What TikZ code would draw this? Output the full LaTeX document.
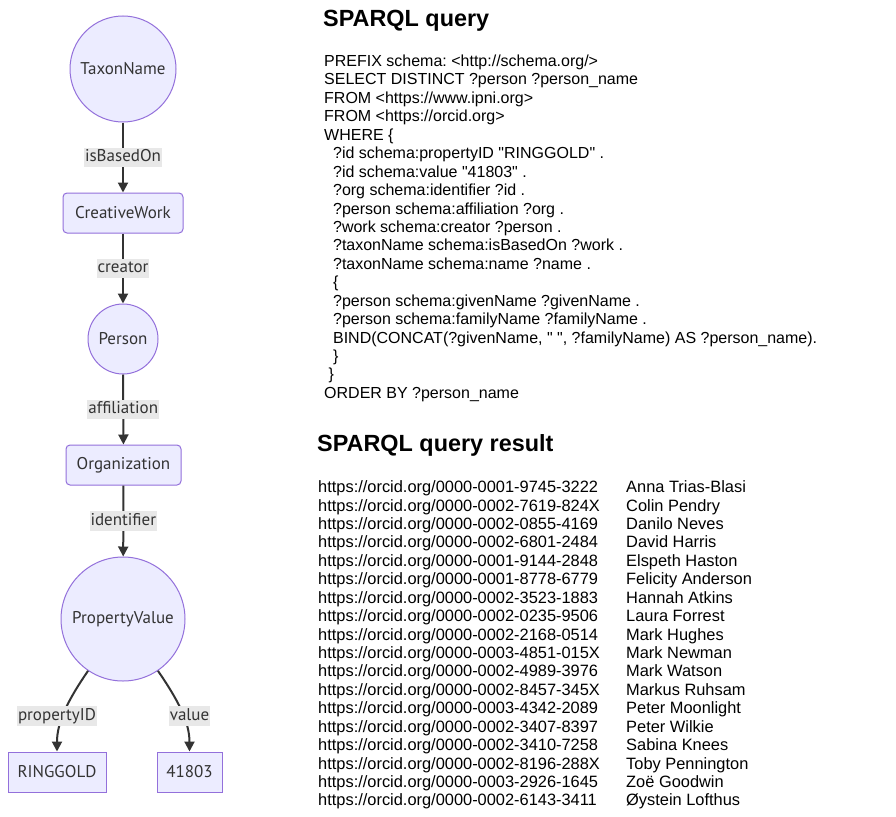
\documentclass[tikz,border=0pt]{standalone}
\usepackage{fontspec}
\setmainfont{Liberation Sans}[Ligatures=TeXOff]
\newfontfamily\mfont{PT Sans}
\usetikzlibrary{arrows.meta}
\definecolor{nodefill}{HTML}{ECECFF}
\definecolor{nodeline}{HTML}{9370DB}
\definecolor{edgecol}{HTML}{333333}
\definecolor{lblbg}{HTML}{E8E8E8}
\frenchspacing
\newcommand{\dq}{\symbol{34}}
\begin{document}
\begin{tikzpicture}[x=1pt,y=-1pt,
  mf/.style={font=\mfont\fontsize{17}{20}\selectfont, text=edgecol},
  circ/.style={circle, draw=nodeline, fill=nodefill, line width=1pt, minimum size=#1, inner sep=0, mf},
  box/.style={rectangle, draw=nodeline, fill=nodefill, line width=1pt, minimum width=#1, minimum height=40pt, inner sep=0, mf},
  rbox/.style={box=#1, rounded corners=4pt},
  edge/.style={draw=edgecol, line width=2pt, -{Triangle[length=10pt,width=10pt]}},
  lbl/.style={fill=lblbg, inner xsep=1pt, inner ysep=1.5pt, text height=12.5pt, text depth=4pt, mf},
  qline/.style={anchor=base west, inner sep=0, font=\frenchspacing\fontsize{16}{19}\selectfont},
  rline/.style={anchor=base west, inner sep=0, font=\frenchspacing\fontsize{16.4}{19}\selectfont},
  ttl/.style={anchor=base west, inner sep=0, font=\bfseries\fontsize{23.4}{28}\selectfont}
]
\fill[white] (0,0) rectangle (896,816);
\useasboundingbox (0,0) rectangle (896,816);

% diagram
\node[circ=106pt] (tn) at (123,69) {TaxonName};
\node[rbox=120pt] (cw) at (123,213) {CreativeWork};
\node[circ=70pt] (ps) at (123,339) {Person};
\node[rbox=115pt] (org) at (123.5,465) {Organization};
\node[circ=124pt] (pv) at (123,619) {PropertyValue};
\node[box=98pt] (rg) at (57,772) {RINGGOLD};
\node[box=65pt] (val) at (189.5,772) {41803};

\draw[edge] (tn) -- (cw) node[lbl, midway] (l1) {isBasedOn};
\draw[edge] (cw) -- (ps) node[lbl, midway] (l2) {creator};
\draw[edge] (ps) -- (org) node[lbl, midway] (l3) {affiliation};
\draw[edge] (org) -- (pv) node[lbl, midway] (l4) {identifier};
\draw[edge] (pv.236) .. controls (68,700) and (57,722) .. (rg.north);
\draw[edge] (pv.304) .. controls (178,700) and (189.5,722) .. (val.north);
\node[lbl] (l5) at (57,716) {propertyID};
\node[lbl] (l6) at (189.5,716) {value};

% query
\node[ttl] (t1) at (323,27) {SPARQL query};
\node[qline] (q0) at (324,{66.5+18.44*0}) {PREFIX schema: <http://schema.org/>};
\node[qline] (q1) at (324,{66.5+18.44*1}) {SELECT DISTINCT ?person ?person\_name};
\node[qline] (q2) at (324,{66.5+18.44*2}) {FROM <https://www.ipni.org>};
\node[qline] (q3) at (324,{66.5+18.44*3}) {FROM <https://orcid.org>};
\node[qline] (q4) at (324,{66.5+18.44*4}) {WHERE \{};
\node[qline] (q5) at (332.9,{66.5+18.44*5}) {?id schema:propertyID \dq RINGGOLD\dq{} .};
\node[qline] (q6) at (332.9,{66.5+18.44*6}) {?id schema:value \dq 41803\dq{} .};
\node[qline] (q7) at (332.9,{66.5+18.44*7}) {?org schema:identifier ?id .};
\node[qline] (q8) at (332.9,{66.5+18.44*8}) {?person schema:affiliation ?org .};
\node[qline] (q9) at (332.9,{66.5+18.44*9}) {?work schema:creator ?person .};
\node[qline] (q10) at (332.9,{66.5+18.44*10}) {?taxonName schema:isBasedOn ?work .};
\node[qline] (q11) at (332.9,{66.5+18.44*11}) {?taxonName schema:name ?name .};
\node[qline] (q12) at (332.9,{66.5+18.44*12}) {\{};
\node[qline] (q13) at (332.9,{66.5+18.44*13}) {?person schema:givenName ?givenName .};
\node[qline] (q14) at (332.9,{66.5+18.44*14}) {?person schema:familyName ?familyName .};
\node[qline] (q15) at (332.9,{66.5+18.44*15}) {BIND(CONCAT(?givenName, \dq{} \dq, ?familyName) AS ?person\_name).};
\node[qline] (q16) at (332.9,{66.5+18.44*16}) {\}};
\node[qline] (q17) at (328.45,{66.5+18.44*17}) {\}};
\node[qline] (q18) at (324,{66.5+18.44*18}) {ORDER BY ?person\_name};

% result
\node[ttl] (t2) at (317,451) {SPARQL query result};
\foreach \u/\n [count=\i from 0] in {
  0000-0001-9745-3222/Anna Trias-Blasi,
  0000-0002-7619-824X/Colin Pendry,
  0000-0002-0855-4169/Danilo Neves,
  0000-0002-6801-2484/David Harris,
  0000-0001-9144-2848/Elspeth Haston,
  0000-0001-8778-6779/Felicity Anderson,
  0000-0002-3523-1883/Hannah Atkins,
  0000-0002-0235-9506/Laura Forrest,
  0000-0002-2168-0514/Mark Hughes,
  0000-0003-4851-015X/Mark Newman,
  0000-0002-4989-3976/Mark Watson,
  0000-0002-8457-345X/Markus Ruhsam,
  0000-0003-4342-2089/Peter Moonlight,
  0000-0002-3407-8397/Peter Wilkie,
  0000-0002-3410-7258/Sabina Knees,
  0000-0002-8196-288X/Toby Pennington,
  0000-0003-2926-1645/Zoë Goodwin,
  0000-0002-6143-3411/Øystein Lofthus}{
  \node[rline] (u\i) at (318,{492.6+18.43*\i}) {https://orcid.org/\u};
  \node[rline] (n\i) at (626,{492.6+18.43*\i}) {\n};
}
\end{tikzpicture}
\end{document}
